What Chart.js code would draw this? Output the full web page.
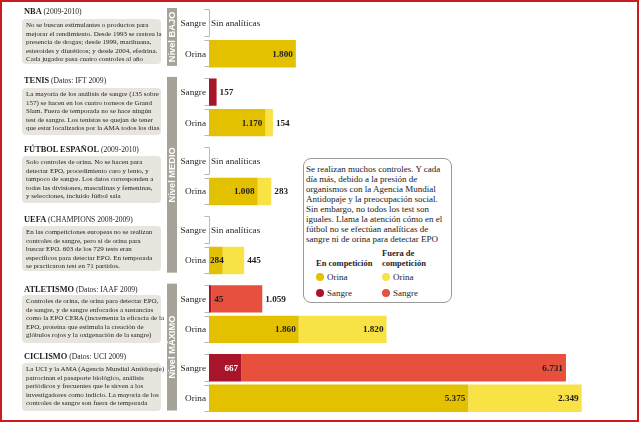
<!DOCTYPE html>
<html><head><meta charset="utf-8">
<script src="https://cdn.jsdelivr.net/npm/chart.js@4.4.1/dist/chart.umd.min.js"></script>
<style>
html,body{margin:0;padding:0;background:#fff;}
#wrap{position:relative;width:640px;height:423px;overflow:hidden;font-family:"Liberation Serif",serif;color:#1e1e1e;}
#frame{position:absolute;left:0;top:0;width:635px;height:418px;border:2px solid #cc1a1e;}
#chart{position:absolute;left:0;top:0;}
.ttl{position:absolute;left:24px;font-size:7.6px;line-height:10px;white-space:nowrap;}
.ttl b{font-size:8.4px;}
.pan{position:absolute;left:22px;width:139px;box-sizing:border-box;padding:2px 3px 2px 4px;background:#e7e5de;border-radius:4px;font-size:7px;line-height:8.5px;white-space:nowrap;}
#info{position:absolute;left:303px;top:158px;width:149px;height:145px;box-sizing:border-box;border:1px solid #9a9a9a;border-radius:8px;background:#fff;}
#info p{position:absolute;left:2px;top:5px;margin:0;font-size:9px;line-height:10px;white-space:nowrap;color:#1a1a1a;}
.lh{position:absolute;font-weight:bold;font-size:8.5px;line-height:10px;white-space:nowrap;}
.li{position:absolute;font-size:9px;line-height:10px;white-space:nowrap;}
.li i{display:inline-block;width:8px;height:8px;border-radius:50%;vertical-align:-1px;margin-right:3px;}
</style></head>
<body>
<div id="wrap">
<div id="frame"></div>
<canvas id="chart" width="640" height="423"></canvas>

<div class="ttl" style="top:7px"><b>NBA</b> (2009-2010)</div>
<div class="pan" style="top:19px;height:45px">No se buscan estimulantes o productos para<br>mejorar el rendimiento. Desde 1993 se rastrea la<br>presencia de drogas; desde 1999, marihuana,<br>esteroides y diuréticos; y desde 2004, efedrina.<br>Cada jugador pasa cuatro controles al año</div>

<div class="ttl" style="top:76px"><b>TENIS</b> (Datos: IFT 2009)</div>
<div class="pan" style="top:88px;height:47px">La mayoría de los análisis de sangre (135 sobre<br>157) se hacen en los cuatro torneos de Grand<br>Slam. Fuera de temporada no se hace ningún<br>test de sangre. Los tenistas se quejan de tener<br>que estar localizados por la AMA todos los días</div>

<div class="ttl" style="top:145px"><b>FÚTBOL ESPAÑOL</b> (2009-2010)</div>
<div class="pan" style="top:156px;height:47px">Solo controles de orina. No se hacen para<br>detectar EPO, procedimiento caro y lento, y<br>tampoco de sangre. Los datos corresponden a<br>todas las divisiones, masculinas y femeninas,<br>y selecciones, incluido fútbol sala</div>

<div class="ttl" style="top:215px"><b>UEFA</b> (CHAMPIONS 2008-2009)</div>
<div class="pan" style="top:226px;height:45px">En las competiciones europeas no se realizan<br>controles de sangre, pero sí de orina para<br>buscar EPO. 603 de los 729 tests eran<br>específicos para detectar EPO. En temporada<br>se practicaron test en 71 partidos.</div>

<div class="ttl" style="top:285px"><b>ATLETISMO</b> (Datos: IAAF 2009)</div>
<div class="pan" style="top:295px;height:48px">Controles de orina, de orina para detectar EPO,<br>de sangre, y de sangre enfocados a sustancias<br>como la EPO CERA (incrementa la eficacia de la<br>EPO, proteína que estimula la creación de<br>glóbulos rojos y la oxigenación de la sangre)</div>

<div class="ttl" style="top:352px"><b>CICLISMO</b> (Datos: UCI 2009)</div>
<div class="pan" style="top:363px;height:48px">La UCI y la AMA (Agencia Mundial Antidopaje)<br>patrocinan el pasaporte biológico, análisis<br>periódicos y frecuentes que le sirven a los<br>investigadores como indicio. La mayoría de los<br>controles de sangre son fuera de temporada</div>

<div id="info">
<p>Se realizan muchos controles. Y cada<br>día más, debido a la presión de<br>organismos con la Agencia Mundial<br>Antidopaje y la preocupación social.<br>Sin embargo, no todos los test son<br>iguales. Llama la atención cómo en el<br>fútbol no se efectúan analíticas de<br>sangre ni de orina para detectar EPO</p>
<div id="legend"></div>
</div>
</div>

<script>
// ---- data ----
const categories = ['NBA', 'Tenis', 'Fútbol español', 'UEFA', 'Atletismo', 'Ciclismo'];
const sangreEnCompeticion    = [null, 157, null, null, 45, 667];
const sangreFueraCompeticion = [null, null, null, null, 1059, 6731];
const orinaEnCompeticion     = [1800, 1170, 1008, 284, 1860, 5375];
const orinaFueraCompeticion  = [null, 154, 283, 445, 1820, 2349];
const rowLabels = ['Sangre', 'Orina'];
const noDataLabel = 'Sin analíticas';
const levelLabels = ['Nivel BAJO', 'Nivel MEDIO', 'Nivel MÁXIMO'];
const levelFirst = [0, 1, 4];
const levelLast  = [0, 3, 5];

const COL = {
  sangreEn: '#a8142a', sangreFuera: '#e8503e',
  orinaEn: '#e4c100', orinaFuera: '#f9e246'
};
const CP = 0.885, BP = 0.9;

function fmt(n){ return String(n).replace(/\B(?=(\d{3})+(?!\d))/g, '.'); }

function geom(chart){
  const y = chart.scales.y;
  const catW = Math.abs(y.getPixelForValue(1) - y.getPixelForValue(0));
  const slot = catW * CP / 2;
  return {catW, slot, half: slot * BP / 2};
}

const infographic = {
  id: 'infographic',
  beforeDatasetsDraw(chart){
    const {ctx, chartArea: a, scales: {y}} = chart;
    const g = geom(chart);
    ctx.save();
    // level bars
    levelLabels.forEach((lab, k) => {
      const top = y.getPixelForValue(levelFirst[k]) - g.catW/2 + 4;
      const bot = y.getPixelForValue(levelLast[k]) + g.catW/2 - 7;
      const x0 = a.left - 42, w = 10;
      ctx.fillStyle = '#a8a398';
      ctx.fillRect(x0, top, w, bot - top);
      ctx.save();
      ctx.translate(x0 + w/2 + 0.5, (top + bot)/2);
      ctx.rotate(-Math.PI/2);
      ctx.fillStyle = '#fff';
      ctx.font = 'bold 9.3px "Liberation Sans"';
      ctx.textAlign = 'center'; ctx.textBaseline = 'middle';
      ctx.fillText(lab, 0, 0);
      ctx.restore();
    });
    // brackets + row labels
    ctx.strokeStyle = '#b8b8b8'; ctx.lineWidth = 1;
    categories.forEach((c, i) => {
      const cy = y.getPixelForValue(i);
      [cy - g.slot/2, cy + g.slot/2].forEach((ry, k) => {
        const t = Math.round(ry - g.half) + 0.5, b = Math.round(ry + g.half) - 0.5;
        const x = Math.round(a.left) + 0.5;
        ctx.beginPath();
        ctx.moveTo(x - 5, t); ctx.lineTo(x, t); ctx.lineTo(x, b); ctx.lineTo(x - 5, b);
        ctx.stroke();
        ctx.fillStyle = '#1e1e1e';
        ctx.font = '9.2px "Liberation Serif"';
        ctx.textAlign = 'right'; ctx.textBaseline = 'middle';
        ctx.fillText(rowLabels[k], a.left - 3, ry + 0.5);
      });
    });
    ctx.restore();
  },
  afterDatasetsDraw(chart){
    const {ctx, chartArea: a, scales: {y}} = chart;
    const g = geom(chart);
    const ds = chart.data.datasets;
    ctx.save();
    ctx.textBaseline = 'middle';
    categories.forEach((c, i) => {
      const cy = y.getPixelForValue(i);
      [[0, 1], [2, 3]].forEach(([e, f], k) => {
        const ry = cy + (k === 0 ? -g.slot/2 : g.slot/2) + 0.5;
        const ev = ds[e].data[i], fv = ds[f].data[i];
        if (ev == null && fv == null) {
          ctx.font = '9.2px "Liberation Serif"';
          ctx.fillStyle = '#1e1e1e'; ctx.textAlign = 'left';
          ctx.fillText(noDataLabel, a.left + 2, ry);
          return;
        }
        ctx.font = 'bold 9.2px "Liberation Serif"';
        let fueraOutside = false;
        if (ev != null) {
          const el = chart.getDatasetMeta(e).data[i];
          const s = Math.min(el.base, el.x), en = Math.max(el.base, el.x);
          const txt = fmt(ev), w = ctx.measureText(txt).width;
          if (en - s >= w + 5) {
            ctx.fillStyle = k === 0 ? '#fff' : '#1e1e1e';
            ctx.textAlign = 'right'; ctx.fillText(txt, en - 3, ry);
          } else if (fv != null) {
            ctx.fillStyle = '#1e1e1e'; ctx.textAlign = 'left';
            if (en - s >= w * 0.7) ctx.fillText(txt, s + 1, ry);
            else ctx.fillText(txt, en + 3, ry);
            fueraOutside = true;
          } else {
            ctx.fillStyle = '#1e1e1e'; ctx.textAlign = 'left';
            ctx.fillText(txt, en + 3, ry);
          }
        }
        if (fv != null) {
          const el = chart.getDatasetMeta(f).data[i];
          const s = Math.min(el.base, el.x), en = Math.max(el.base, el.x);
          const txt = fmt(fv), w = ctx.measureText(txt).width;
          ctx.fillStyle = '#1e1e1e';
          if (!fueraOutside && en - s >= w + 5) {
            ctx.textAlign = 'right'; ctx.fillText(txt, en - 3, ry);
          } else {
            ctx.textAlign = 'left'; ctx.fillText(txt, en + 3, ry);
          }
        }
      });
    });
    ctx.restore();
  }
};

const chart = new Chart(document.getElementById('chart'), {
  type: 'bar',
  data: {
    labels: categories,
    datasets: [
      {label: 'Sangre en competición', data: sangreEnCompeticion, stack: 'Sangre', backgroundColor: COL.sangreEn},
      {label: 'Sangre fuera de competición', data: sangreFueraCompeticion, stack: 'Sangre', backgroundColor: COL.sangreFuera},
      {label: 'Orina en competición', data: orinaEnCompeticion, stack: 'Orina', backgroundColor: COL.orinaEn},
      {label: 'Orina fuera de competición', data: orinaFueraCompeticion, stack: 'Orina', backgroundColor: COL.orinaFuera}
    ]
  },
  options: {
    indexAxis: 'y',
    responsive: false,
    animation: false,
    devicePixelRatio: 1,
    categoryPercentage: CP,
    barPercentage: BP,
    layout: {padding: {left: 209, right: 45, top: 4, bottom: 5.5}},
    scales: {
      x: {stacked: true, min: 0, max: 8000, display: false},
      y: {stacked: true, display: false}
    },
    plugins: {legend: {display: false}, tooltip: {enabled: false}}
  },
  plugins: [infographic]
});

// HTML legend built from the chart's datasets
(function(){
  const box = document.getElementById('legend');
  const ds = chart.data.datasets;
  const cols = [
    {x: 12, head: ['En competición'], items: [2, 0]},
    {x: 78, head: ['Fuera de', 'competición'], items: [3, 1]}
  ];
  const headBottom = 109, rowCenters = [118, 134];
  cols.forEach(col => {
    col.head.forEach((h, j) => {
      const d = document.createElement('div');
      d.className = 'lh';
      d.style.left = col.x + 'px';
      d.style.top = (headBottom - 10 * (col.head.length - j)) + 'px';
      d.textContent = h;
      box.appendChild(d);
    });
    col.items.forEach((idx, j) => {
      const d = document.createElement('div');
      d.className = 'li';
      d.style.left = col.x + 'px';
      d.style.top = (rowCenters[j] - 5) + 'px';
      const dot = document.createElement('i');
      dot.style.background = ds[idx].backgroundColor;
      d.appendChild(dot);
      d.appendChild(document.createTextNode(ds[idx].label.split(' ')[0]));
      box.appendChild(d);
    });
  });
})();
</script>
</body></html>
